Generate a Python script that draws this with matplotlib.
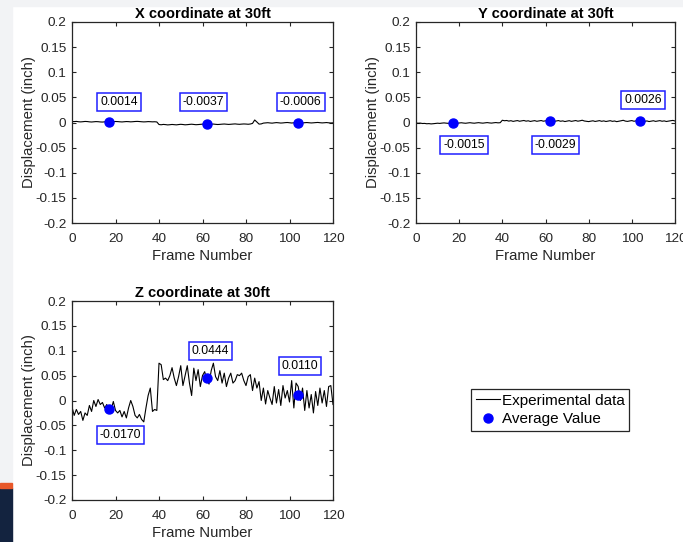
import numpy as np
import matplotlib.pyplot as plt
from matplotlib.patches import Rectangle
from matplotlib.lines import Line2D
from matplotlib.ticker import FuncFormatter

plt.rcParams['font.family'] = ['Liberation Sans', 'DejaVu Sans']

# frame numbers 0..120
frames = list(range(121))

x_disp = [
    0.0020, 0.0018, 0.0022, 0.0015, 0.0012, 0.0016, 0.0021, 0.0019, 0.0013, 0.0010,
    0.0014, 0.0018, 0.0016, 0.0011, 0.0009, 0.0013, 0.0017, 0.0015, 0.0012, 0.0016,
    0.0020, 0.0018, 0.0014, 0.0011, 0.0015, 0.0019, 0.0017, 0.0013, 0.0016, 0.0020,
    0.0022, 0.0019, 0.0015, 0.0012, 0.0014, 0.0018, 0.0016, 0.0013, 0.0015, 0.0011,
    -0.0040, -0.0045, -0.0038, -0.0042, -0.0048, -0.0044, -0.0039, -0.0043, -0.0047, -0.0041,
    -0.0036, -0.0040, -0.0046, -0.0043, -0.0038, -0.0034, -0.0039, -0.0044, -0.0041, -0.0037,
    -0.0033, -0.0038, -0.0042, -0.0039, -0.0035, -0.0031, -0.0036, -0.0040, -0.0037, -0.0033,
    -0.0030, -0.0034, -0.0038, -0.0035, -0.0031, -0.0028, -0.0033, -0.0036, -0.0032, -0.0029,
    -0.0031, -0.0035, -0.0030, -0.0018, 0.0050, 0.0010, -0.0032, -0.0028, -0.0012, -0.0008,
    -0.0004, -0.0009, -0.0013, -0.0007, -0.0002, -0.0006, -0.0011, -0.0008, -0.0003, 0.0000,
    -0.0005, -0.0010, -0.0006, -0.0002, -0.0007, -0.0012, -0.0009, -0.0004, -0.0001, -0.0005,
    -0.0009, -0.0006, -0.0002, 0.0001, -0.0004, -0.0008, -0.0005, -0.0001, -0.0006, -0.0010,
    -0.0007,
]

y_disp = [
    -0.0010, -0.0015, -0.0012, -0.0020, -0.0018, -0.0025, -0.0022, -0.0028, -0.0024, -0.0019,
    -0.0014, -0.0018, -0.0012, -0.0008, -0.0013, -0.0017, -0.0011, -0.0006, -0.0012, -0.0016,
    -0.0010, -0.0005, -0.0011, -0.0015, -0.0009, -0.0004, -0.0010, -0.0014, -0.0008, -0.0003,
    -0.0009, -0.0013, -0.0007, -0.0002, -0.0008, -0.0012, -0.0006, -0.0001, -0.0007, -0.0004,
    0.0045, 0.0035, 0.0040, 0.0028, 0.0036, 0.0022, 0.0031, 0.0038, 0.0025, 0.0033,
    0.0040, 0.0027, 0.0034, 0.0021, 0.0030, 0.0037, 0.0024, 0.0032, 0.0039, 0.0026,
    0.0033, 0.0041, 0.0028, 0.0035, 0.0022, 0.0030, 0.0038, 0.0025, 0.0032, 0.0019,
    0.0028, 0.0036, 0.0023, 0.0031, 0.0039, 0.0026, 0.0034, 0.0045, 0.0030, 0.0024,
    0.0018, 0.0027, 0.0034, 0.0021, 0.0029, 0.0037, 0.0024, 0.0032, 0.0020, 0.0028,
    0.0036, 0.0023, 0.0030, 0.0017, 0.0026, 0.0034, 0.0044, 0.0028, 0.0022, 0.0031,
    0.0038, 0.0025, 0.0033, 0.0020, 0.0029, 0.0036, 0.0024, 0.0031, 0.0019, 0.0027,
    0.0035, 0.0022, 0.0030, 0.0037, 0.0025, 0.0032, 0.0020, 0.0028, 0.0035, 0.0042,
    0.0030,
]

z_disp = [
    -0.013, -0.030, -0.018, -0.028, -0.022, -0.040, -0.025, -0.030, -0.010, -0.022,
    0.000, -0.012, 0.002, -0.008, -0.004, -0.015, -0.008, -0.022, -0.018, -0.002,
    -0.020, -0.025, -0.020, -0.033, -0.022, -0.035, -0.015, 0.000, -0.012, -0.030,
    -0.035, -0.028, -0.038, -0.043, -0.015, 0.010, 0.025, -0.022, -0.018, -0.020,
    0.075, 0.072, 0.042, 0.045, 0.040, 0.050, 0.066, 0.045, 0.030, 0.048,
    0.070, 0.030, 0.050, 0.070, 0.035, 0.010, 0.065, 0.040, 0.062, 0.028,
    0.050, 0.058, 0.042, 0.033, 0.060, 0.075, 0.048, 0.040, 0.060, 0.035,
    0.055, 0.028, 0.045, 0.055, 0.035, 0.040, 0.052, 0.050, 0.055, 0.040,
    0.030, 0.048, 0.052, 0.020, 0.045, 0.025, 0.038, 0.000, 0.025, -0.007,
    0.020, 0.005, -0.008, 0.028, -0.005, 0.022, -0.010, 0.030, 0.005, 0.020,
    -0.003, 0.040, -0.015, 0.035, 0.028, 0.000, 0.025, -0.020, 0.020, -0.015,
    0.012, -0.025, 0.018, -0.010, 0.025, -0.005, 0.020, -0.012, 0.028, 0.030,
    -0.008,
]

avg_frames = [17, 62, 104]
x_avg = [0.0014, -0.0037, -0.0006]
y_avg = [-0.0015, 0.0029, 0.0026]
z_avg = [-0.0170, 0.0444, 0.0110]
x_labels = ['0.0014', '-0.0037', '-0.0006']
y_labels = ['-0.0015', '-0.0029', '0.0026']
z_labels = ['-0.0170', '0.0444', '0.0110']

titles = ['X coordinate at 30ft', 'Y coordinate at 30ft', 'Z coordinate at 30ft']

W, H = 683, 542
fig = plt.figure(figsize=(W / 100, H / 100), dpi=100)

# screenshot surroundings
fig.patches.append(Rectangle((0, 0), 12 / W, 1, transform=fig.transFigure,
                             color='#f2f3f5', zorder=-10))
fig.patches.append(Rectangle((0, 1 - 6 / H), 1, 6 / H, transform=fig.transFigure,
                             color='#f2f3f5', zorder=-10))
fig.patches.append(Rectangle((0, 0), 12 / W, 54 / H, transform=fig.transFigure,
                             color='#13233f', zorder=-9))
fig.patches.append(Rectangle((0, 54 / H), 12 / W, 5 / H, transform=fig.transFigure,
                             color='#e8582a', zorder=-9))


def px_axes(l, t, r, b):
    return fig.add_axes([l / W, 1 - b / H, (r - l) / W, (b - t) / H])


ax1 = px_axes(72, 22, 333, 223)
ax2 = px_axes(416, 22, 675, 223)
ax3 = px_axes(72, 301, 333, 500)

fmt = FuncFormatter(lambda v, p: '%g' % round(v, 3))

panels = [
    (ax1, x_disp, x_avg, x_labels, [21.6, 60.4, 105.2], [0.04, 0.04, 0.04]),
    (ax2, y_disp, y_avg, y_labels, [22.2, 64.6, 105.1], [-0.045, -0.045, 0.045]),
    (ax3, z_disp, z_avg, z_labels, [22.4, 63.6, 104.8], [-0.07, 0.1, 0.07]),
]

for i, (ax, data, avg, labs, lx, ly) in enumerate(panels):
    ax.plot(frames, data, color='black', lw=0.8)
    ax.plot(avg_frames, avg, 'o', color='#0000ff', ms=6.5)
    for t, xx, yy in zip(labs, lx, ly):
        ax.text(xx, yy, t, ha='center', va='center', fontsize=8.7,
                bbox=dict(boxstyle='square,pad=0.25', fc='white', ec='#1f1fff', lw=1.1))
    ax.set_xlim(0, 120)
    ax.set_ylim(-0.2, 0.2)
    ax.set_xticks(range(0, 121, 20))
    ax.set_yticks(np.linspace(-0.2, 0.2, 9))
    ax.yaxis.set_major_formatter(fmt)
    ax.tick_params(direction='in', top=True, right=True, length=3, labelsize=9.7,
                   colors='#262626')
    ax.tick_params(axis='x', pad=7)
    ax.tick_params(axis='y', pad=4)
    for s in ax.spines.values():
        s.set_color('#262626')
        s.set_linewidth(0.9)
    ax.set_title(titles[i], fontsize=10.5, fontweight='bold', pad=3)
    ax.set_ylabel('Displacement (inch)', fontsize=10.7, color='#262626', labelpad=-0.5)
    ax.set_xlabel('Frame Number', fontsize=10.7, color='#262626', labelpad=3)

handles = [Line2D([], [], color='black', lw=0.8),
           Line2D([], [], marker='o', ls='none', color='#0000ff', ms=6.5)]
leg = fig.legend(handles, ['Experimental data', 'Average Value'],
                 loc='upper left', bbox_to_anchor=(471 / W, 1 - 389 / H),
                 fontsize=11, frameon=True, fancybox=False, framealpha=1,
                 handlelength=1.6, handletextpad=0.1, borderpad=0.3,
                 labelspacing=0.3, borderaxespad=0)
leg.get_frame().set_edgecolor('#262626')
leg.get_frame().set_linewidth(0.9)

fig.savefig('out.png', dpi=100)
